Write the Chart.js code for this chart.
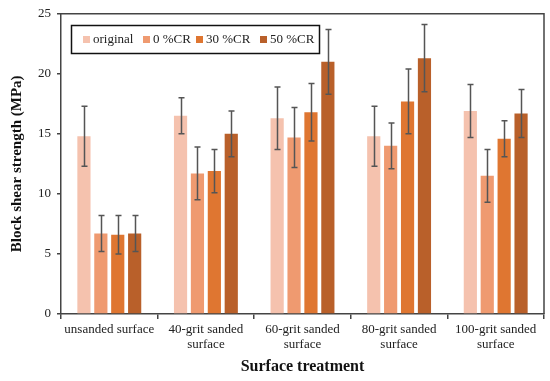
<!DOCTYPE html>
<html>
<head>
<meta charset="utf-8">
<script src="https://cdn.jsdelivr.net/npm/chart.js@4"></script>
<style>
  html, body { margin: 0; padding: 0; background: #fff; }
  #wrap { width: 550px; height: 381px; position: relative; }
</style>
</head>
<body>
<div id="wrap"><canvas id="chart" width="550" height="381"></canvas></div>
<script>
const categories = [
  'unsanded surface',
  ['40-grit sanded', 'surface'],
  ['60-grit sanded', 'surface'],
  ['80-grit sanded', 'surface'],
  ['100-grit sanded', 'surface']
];
const seriesNames = ['original', '0 %CR', '30 %CR', '50 %CR'];
const seriesColors = ['#f5c2ae', '#ef9a70', '#df7631', '#b9602a'];

const originalVals = [14.8, 16.5, 16.3, 14.8, 16.9];
const cr0Vals = [6.7, 11.7, 14.7, 14.0, 11.5];
const cr30Vals = [6.6, 11.9, 16.8, 17.7, 14.6];
const cr50Vals = [6.7, 15.0, 21.0, 21.3, 16.7];

const originalErr = [2.5, 1.5, 2.6, 2.5, 2.2];
const cr0Err = [1.5, 2.2, 2.5, 1.9, 2.2];
const cr30Err = [1.6, 1.8, 2.4, 2.7, 1.5];
const cr50Err = [1.5, 1.9, 2.7, 2.8, 2.0];

const yTicks = [0, 5, 10, 15, 20, 25];

const allVals = [originalVals, cr0Vals, cr30Vals, cr50Vals];
const allErr = [originalErr, cr0Err, cr30Err, cr50Err];

const serif = 'Liberation Serif, Times New Roman, serif';

// error bars + frame + boxed legend
const extras = {
  id: 'extras',
  afterDatasetsDraw(chart) {
    const ctx = chart.ctx;
    const y = chart.scales.y;
    ctx.save();
    ctx.strokeStyle = '#555';
    ctx.lineWidth = 1.5;
    chart.data.datasets.forEach((ds, i) => {
      const meta = chart.getDatasetMeta(i);
      meta.data.forEach((bar, j) => {
        const v = ds.data[j];
        const e = allErr[i][j];
        const yTop = y.getPixelForValue(v + e);
        const yBot = y.getPixelForValue(v - e);
        const x = Math.round(bar.x) + 0.5;
        ctx.beginPath();
        ctx.moveTo(x, yTop); ctx.lineTo(x, yBot);
        ctx.moveTo(x - 3, yTop); ctx.lineTo(x + 3, yTop);
        ctx.moveTo(x - 3, yBot); ctx.lineTo(x + 3, yBot);
        ctx.stroke();
      });
    });
    ctx.restore();
  },
  afterDraw(chart) {
    const ctx = chart.ctx;
    const a = chart.chartArea;
    ctx.save();
    // top/right frame
    ctx.strokeStyle = '#444';
    ctx.lineWidth = 1.5;
    ctx.beginPath();
    ctx.moveTo(a.left, a.top);
    ctx.lineTo(a.right, a.top);
    ctx.lineTo(a.right, a.bottom);
    ctx.stroke();
    // legend box
    ctx.fillStyle = '#fff';
    ctx.fillRect(71, 25, 248, 28);
    ctx.strokeStyle = '#111';
    ctx.lineWidth = 1.5;
    ctx.strokeRect(71.5, 25.5, 248, 28);
    const sqX = [83, 143, 196, 260];
    ctx.font = '13px ' + serif;
    ctx.textBaseline = 'middle';
    chart.data.datasets.forEach((ds, i) => {
      ctx.fillStyle = ds.backgroundColor;
      ctx.fillRect(sqX[i], 36, 7, 7);
      ctx.fillStyle = '#222';
      ctx.fillText(ds.label, sqX[i] + 10, 40);
    });
    ctx.restore();
  }
};

new Chart(document.getElementById('chart').getContext('2d'), {
  type: 'bar',
  data: {
    labels: categories,
    datasets: seriesNames.map((name, i) => ({
      label: name,
      data: allVals[i],
      backgroundColor: seriesColors[i],
      borderWidth: 0,
      categoryPercentage: 0.7,
      barPercentage: 0.78
    }))
  },
  options: {
    responsive: false,
    animation: false,
    layout: { padding: { top: 10, right: 6, left: 4, bottom: 3 } },
    plugins: {
      legend: { display: false },
      tooltip: { enabled: false }
    },
    scales: {
      x: {
        grid: { display: true, drawOnChartArea: false, offset: true, tickLength: 5, color: '#444', lineWidth: 1.5 },
        border: { color: '#444', width: 1.5 },
        ticks: { color: '#222', font: { family: serif, size: 13, lineHeight: 1.15 }, maxRotation: 0, padding: 3 },
        title: { display: true, text: 'Surface treatment', color: '#111', font: { family: serif, size: 16, weight: 'bold' }, padding: { top: 2, bottom: 2 } }
      },
      y: {
        min: 0,
        max: 25,
        afterBuildTicks: axis => { axis.ticks = yTicks.map(v => ({ value: v })); },
        grid: { display: true, drawOnChartArea: false, tickLength: 4, color: '#444', lineWidth: 1.5 },
        border: { color: '#444', width: 1.5 },
        ticks: { color: '#222', font: { family: serif, size: 13 }, padding: 6 },
        title: { display: true, text: 'Block shear strength (MPa)', color: '#111', font: { family: serif, size: 15, weight: 'bold' }, padding: { bottom: 6 } }
      }
    }
  },
  plugins: [extras]
});
</script>
</body>
</html>
